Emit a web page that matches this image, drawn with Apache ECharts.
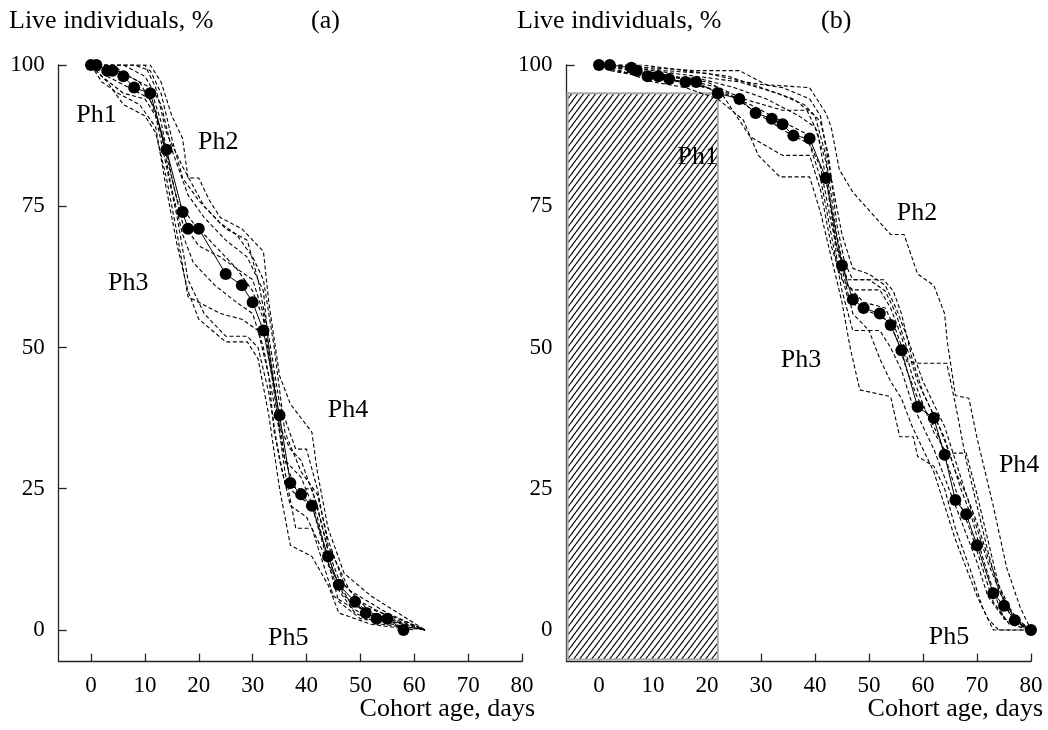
<!DOCTYPE html>
<html>
<head>
<meta charset="utf-8">
<script src="https://cdn.jsdelivr.net/npm/echarts@6/dist/echarts.min.js"></script>
<style>html,body{margin:0;padding:0;background:#fff}#c{width:1048px;height:730px}</style>
</head>
<body>
<div id="c"></div>
<script>
// ---------- data ----------
const xTicks = [0, 10, 20, 30, 40, 50, 60, 70, 80];
const yTicks = [0, 25, 50, 75, 100];

// Panel (a): mean survival (dots) and individual cohorts (dashed)
const meanA = [[0,100],[1,100],[3,99],[4,99],[6,98],[8,96],[11,95],[14,85],[17,74],[18,71],[20,71],[25,63],[28,61],[30,58],[32,53],[35,38],[37,26],[39,24],[41,22],[44,13],[46,8],[49,5],[51,3],[53,2],[55,2],[58,0]];
const cohortA1 = [[0,100],[11,100],[13,97],[15,91],[17,87],[18,80],[20,80],[22,76],[24,73],[28,71],[32,67],[33,58],[35,45],[37,40],[41,35],[42,28],[44,18],[47,10],[52,6],[62,0]];
const cohortA2 = [[0,100],[10,100],[12,96],[14,88],[17,82],[21,75],[25,71],[29,69],[31,62],[33,52],[35,40],[38,32],[40,32],[42,25],[44,15],[48,7],[55,3],[62,0]];
const cohortA3 = [[0,100],[3,97],[6,93],[10,91],[12,88],[14,80],[16,70],[18,59],[20,58],[24,56],[28,55],[31,53],[33,45],[34,35],[36,26],[38,24],[41,22],[44,12],[46,5],[50,2],[56,1],[62,0]];
const cohortA4 = [[0,100],[2,97],[5,95],[9,93],[12,89],[14,78],[16,68],[18,60],[20,55],[25,51],[29,51],[31,48],[33,38],[35,25],[37,15],[41,13],[44,8],[46,3],[52,1],[60,0]];
const cohortA5 = [[0,100],[4,100],[7,98],[11,96],[13,90],[15,80],[17,72],[20,68],[24,66],[27,64],[30,62],[32,56],[34,44],[36,30],[38,25],[41,25],[43,18],[45,10],[48,5],[53,2],[58,1],[62,0]];
const cohortA6 = [[0,100],[5,99],[9,97],[12,92],[14,84],[16,76],[19,72],[23,68],[27,64],[30,60],[32,55],[34,42],[36,28],[38,18],[41,18],[43,12],[45,6],[50,3],[55,2],[62,0]];
const cohortA7 = [[0,100],[6,100],[10,98],[13,93],[15,85],[18,77],[21,73],[25,69],[29,66],[32,60],[33,50],[35,36],[37,32],[39,30],[42,22],[44,14],[46,9],[50,5],[56,2],[62,0]];
const cohortA8 = [[0,100],[3,98],[7,96],[11,94],[13,88],[15,78],[17,70],[19,65],[23,61],[27,58],[30,56],[32,50],[34,40],[36,30],[39,27],[42,20],[44,12],[47,6],[52,3],[58,1]];
const cohortA9 = [[0,100],[2,98],[6,95],[10,94],[12,91],[14,82],[16,73],[18,62],[21,56],[25,52],[29,52],[31,50],[33,42],[35,30],[37,22],[40,20],[43,14],[46,7],[49,3],[54,1],[62,0]];
const cohortA10 = [[0,100],[8,100],[11,99],[13,95],[15,87],[17,80],[20,76],[24,72],[27,70],[30,66],[32,62],[34,50],[36,35],[39,28],[42,24],[44,16],[47,8],[51,4],[57,2],[62,0]];

// Panel (b)
const meanB = [[0,100],[2,100],[6,99.5],[7,99],[9,98],[11,98],[13,97.5],[16,97],[18,97],[22,95],[26,94],[29,91.5],[32,90.5],[34,89.5],[36,87.5],[39,87],[42,80],[45,64.5],[47,58.5],[49,57],[52,56],[54,54],[56,49.5],[59,39.5],[62,37.5],[64,31],[66,23],[68,20.5],[70,15],[73,6.5],[75,4.3],[77,1.7],[80,0]];
const cohortB1 = [[0,100],[2,100],[18,99],[26,99],[31,96.5],[39,96],[42,91.5],[43,89],[44.5,81.5],[47,77.5],[54,70],[56.5,70],[59,63],[62,61],[64,56],[64.5,51],[66,41.5],[68.5,41],[70,34],[73,22],[75.5,11],[78,4],[80,0]];
const cohortB2 = [[0,100],[4,99],[10,97],[16,96],[22,94],[26.7,90.3],[29.5,84],[33.5,80.2],[39,80.2],[41,74],[43,66],[45,58],[46.5,50],[48.3,42.5],[54,41.3],[55.7,34.2],[58.2,34.2],[59,30.7],[62,29],[64,25],[66,18],[69,10],[71,4],[73,0],[80,0]];
const cohortB3 = [[0,100],[6,99],[12,98],[20,97],[26.7,94],[34,92],[38.5,92],[40.5,88],[42,80],[44,68],[46,62],[52.7,62],[54.5,60],[56,56],[58,48],[60,42],[62,38],[64,34],[66,28],[68,24],[70,18],[72,12],[75,5],[78,1],[80,0]];
const cohortB4 = [[0,100],[5,99.5],[14,98],[22,96],[28,87.3],[34,84],[39,84],[41,78],[43,68],[45,62],[47,60.2],[52,60.2],[54,57],[56,52],[58,45],[60,40],[62,35],[64.4,31.3],[68,31.3],[70,24],[72,16],[74,8],[76,3],[80,0]];
const cohortB5 = [[0,100],[8,100],[16,99],[24,98],[30,96],[36,94],[40,91],[42,84],[44,70],[46,61],[49,58],[53,57],[55,53],[57,47.5],[59.4,47.2],[64.4,47.2],[66,40],[68,30],[70,22],[72,14],[74,7],[77,2],[80,0]];
const cohortB6 = [[0,100],[3,99],[9,98],[15,97],[22,95.5],[28,93],[34,90],[38,88],[41,82],[43,72],[45,64],[47,56],[50,53],[52,53],[54,50],[56,46],[58,40],[60,36],[62,32],[64,27],[66,22],[68,17],[70,12],[72,6],[75,2],[80,0]];
const cohortB7 = [[0,100],[7,99],[13,98],[19,97.5],[25,96],[31,94],[37,91],[40,89],[42,83],[44,66],[46,59],[48,57],[51,56],[53,55],[55,52],[57,46],[59,41],[61,38],[63,34],[65,28],[67,22],[69,17],[71,11],[73,5],[76,1],[80,0]];
const cohortB8 = [[0,100],[4,100],[10,99],[18,98],[26,97],[33,95],[38,93],[41,90],[42.5,84],[44,72],[45.5,65],[47,62],[50,62],[53,60],[55,56],[57,50],[59,44],[61,40],[63,36],[65,31],[67,25],[69,20],[71,13],[73,7],[75,2],[80,0]];
const cohortB9 = [[0,100],[2,99],[8,98],[16,97],[24,95],[30,91],[35,88],[39,86],[41,80],[43,70],[45,60],[47,53],[50,53],[52,48],[54,44],[56,41],[58,36],[60,32],[62,28],[64,22],[66,16],[68,11],[70,6],[72,2],[74,0],[80,0]];
const cohortB10 = [[0,100],[5,100],[12,99],[20,98.5],[27,97],[34,96],[39,94],[41,91],[43,80],[45,70],[47,64],[50,63],[53,61],[55,57],[57,52],[60,44],[62,40],[64,36],[66,30],[68,24],[70,19],[72,13],[74,8],[76,4],[78,1],[80,0]];

// hatched zone in panel (b): up to day 22, 95 %
const hatchZone = [[22, 95]];

// phase labels: [day, %, text]
const phaseA = [[1.0, 91.2, 'Ph1'], [23.6, 86.4, 'Ph2'], [6.9, 61.4, 'Ph3'], [47.7, 38.9, 'Ph4'], [36.6, -1.4, 'Ph5']];
const phaseB = [[18.3, 83.7, 'Ph1'], [58.9, 73.8, 'Ph2'], [37.4, 47.8, 'Ph3'], [77.8, 29.2, 'Ph4'], [64.8, -1.2, 'Ph5']];

const cohortsA = [cohortA1, cohortA2, cohortA3, cohortA4, cohortA5, cohortA6, cohortA7, cohortA8, cohortA9, cohortA10];
const cohortsB = [cohortB1, cohortB2, cohortB3, cohortB4, cohortB5, cohortB6, cohortB7, cohortB8, cohortB9, cohortB10];

// ---------- chart ----------
const FONT = 'Liberation Serif';
const FS_TICK = 23;
const FS_TEXT = 26;
const X_MIN = -6, X_MAX = 80, Y_MIN = -5.6, Y_MAX = 100;

// hatch pattern
const pat = document.createElement('canvas');
pat.width = 6; pat.height = 8;
(function () {
  const g = pat.getContext('2d');
  g.fillStyle = '#fff'; g.fillRect(0, 0, 6, 8);
  g.strokeStyle = '#111'; g.lineWidth = 1.3;
  g.beginPath();
  for (let k = -1; k <= 1; k++) { g.moveTo(k * 6, 8); g.lineTo(k * 6 + 6, 0); }
  g.stroke();
})();

function xAxisDef(i) {
  return {
    type: 'value', gridIndex: i, min: X_MIN, max: X_MAX,
    axisLine: { show: true, onZero: false, lineStyle: { color: '#222', width: 1.3 } },
    axisTick: { show: true, inside: true, length: 8, customValues: xTicks, lineStyle: { color: '#222', width: 1.3 } },
    axisLabel: { customValues: xTicks, fontFamily: FONT, fontSize: FS_TICK, color: '#000', margin: 13 },
    splitLine: { show: false }
  };
}
function yAxisDef(i) {
  return {
    type: 'value', gridIndex: i, min: Y_MIN, max: Y_MAX,
    axisLine: { show: true, onZero: false, lineStyle: { color: '#222', width: 1.3 } },
    axisTick: { show: true, inside: true, length: 8, customValues: yTicks, lineStyle: { color: '#222', width: 1.3 } },
    axisLabel: { customValues: yTicks, fontFamily: FONT, fontSize: FS_TICK, color: '#000', margin: 14 },
    splitLine: { show: false }
  };
}

const series = [];
// hatched area (panel b)
series.push({
  type: 'custom', xAxisIndex: 1, yAxisIndex: 1, z: 1, silent: true,
  data: hatchZone,
  renderItem: function (params, api) {
    const p0 = api.coord([X_MIN, Y_MIN]);
    const p1 = api.coord([api.value(0), api.value(1)]);
    return {
      type: 'rect',
      shape: { x: p0[0] + 1, y: p1[1], width: p1[0] - p0[0] - 1, height: p0[1] - p1[1] - 2 },
      style: { fill: { image: pat, repeat: 'repeat' }, stroke: '#aaa', lineWidth: 2 }
    };
  }
});
function dashed(data, i) {
  return {
    type: 'line', xAxisIndex: i, yAxisIndex: i, data: data, showSymbol: false, symbol: 'none',
    silent: true, z: 3,
    lineStyle: { color: '#000', width: 1.1, type: [4, 2.5] }
  };
}
cohortsA.forEach(d => series.push(dashed(d, 0)));
cohortsB.forEach(d => series.push(dashed(d, 1)));
function mean(data, i) {
  return {
    type: 'line', xAxisIndex: i, yAxisIndex: i, data: data, symbol: 'circle', symbolSize: 12,
    showSymbol: true, silent: true, z: 4,
    itemStyle: { color: '#000' },
    lineStyle: { color: '#000', width: 1 }
  };
}
series.push(mean(meanA, 0));
series.push(mean(meanB, 1));
function phases(data, i) {
  return {
    type: 'custom', xAxisIndex: i, yAxisIndex: i, data: data, z: 5, silent: true,
    renderItem: function (params, api) {
      const p = api.coord([api.value(0), api.value(1)]);
      return {
        type: 'text',
        style: {
          x: p[0], y: p[1], text: data[params.dataIndex][2],
          font: FS_TEXT + 'px "' + FONT + '"', fill: '#000',
          align: 'center', verticalAlign: 'middle'
        }
      };
    }
  };
}
series.push(phases(phaseA, 0));
series.push(phases(phaseB, 1));

const tfont = FS_TEXT + 'px "' + FONT + '"';
const txt = (opts) => Object.assign({ type: 'text' }, opts);
const chart = echarts.init(document.getElementById('c'), null, { renderer: 'canvas' });
chart.setOption({
  animation: false,
  backgroundColor: '#fff',
  grid: [
    { left: 58.7, top: 65, width: 463.3, height: 596.6 },
    { left: 566.6, top: 65, width: 464.4, height: 596.6 }
  ],
  xAxis: [xAxisDef(0), xAxisDef(1)],
  yAxis: [yAxisDef(0), yAxisDef(1)],
  series: series,
  graphic: [
    txt({ left: 9, top: 8, style: { text: 'Live individuals, %', font: tfont, fill: '#000' } }),
    txt({ left: 311, top: 8, style: { text: '(a)', font: tfont, fill: '#000' } }),
    txt({ left: 517, top: 8, style: { text: 'Live individuals, %', font: tfont, fill: '#000' } }),
    txt({ left: 821, top: 8, style: { text: '(b)', font: tfont, fill: '#000' } }),
    txt({ right: 1048 - 535, top: 696, style: { text: 'Cohort age, days', font: tfont, fill: '#000' } }),
    txt({ right: 5, top: 696, style: { text: 'Cohort age, days', font: tfont, fill: '#000' } })
  ]
});
</script>
</body>
</html>
